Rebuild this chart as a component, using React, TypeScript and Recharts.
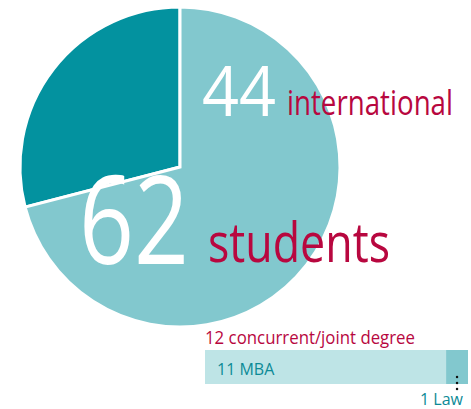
import React from 'react';
import { PieChart, Pie, Cell, BarChart, Bar, XAxis, YAxis } from 'recharts';

// student body split
const studentGroups = ['domestic', 'international'];
const studentCounts = [18, 44];
const totalStudents = 62;

// concurrent / joint degree breakdown
const degreeNames = ['MBA', 'Law'];
const degreeCounts = [11, 1];
const degreeTotal = 12;

const DARK_TEAL = '#03929f';
const LIGHT_TEAL = '#82c8ce';
const PALE_TEAL = '#bee4e6';
const CRIMSON = '#b8073f';
const TEXT_TEAL = '#0c8a96';
const FONT = '"Open Sans", sans-serif';

const pieData = studentGroups.map((g, i) => ({ name: g, value: studentCounts[i] }));
const barData = [{ name: 'degrees', ...Object.fromEntries(degreeNames.map((n, i) => [n, degreeCounts[i]])) }];

const LawLabel = (props: any) => {
  const { x, y, width, height } = props;
  const cx = x + width / 2;
  return (
    <g>
      <line x1={cx} y1={y + height - 7} x2={cx} y2={y + height + 11} stroke="#111" strokeWidth={2.5}
        strokeLinecap="round" strokeDasharray="0 6" />
      <text x={x + width - 5} y={y + height + 21} textAnchor="end" fill={TEXT_TEAL}
        fontFamily={FONT} fontSize={16}>{`${degreeCounts[1]} ${degreeNames[1]}`}</text>
    </g>
  );
};

const MbaLabel = (props: any) => {
  const { x, y } = props;
  return (
    <text x={x + 12} y={y + 25} fill={TEXT_TEAL} fontFamily={FONT} fontSize={16}>
      {`${degreeCounts[0]} ${degreeNames[0]}`}
    </text>
  );
};

export default function App() {
  return (
    <div style={{ position: 'absolute', left: 0, top: 0, width: 471, height: 409, background: '#fff' }}>
      <div style={{ position: 'absolute', left: 0, top: 0 }}>
        <PieChart width={471} height={409} margin={{ top: 0, right: 0, bottom: 0, left: 0 }}>
          <Pie data={pieData} dataKey="value" cx={180} cy={167} outerRadius={160} startAngle={90} endAngle={450}
            stroke="#fff" strokeWidth={3} isAnimationActive={false}>
            <Cell fill={DARK_TEAL} />
            <Cell fill={LIGHT_TEAL} />
          </Pie>
        </PieChart>
      </div>
      <svg width={471} height={409} style={{ position: 'absolute', left: 0, top: 0, pointerEvents: 'none' }}>
        <text x={202} y={116} fill="#fff" fontFamily={FONT} fontSize={70}
          textLength={74} lengthAdjust="spacingAndGlyphs">{studentCounts[1]}</text>
        <text x={287} y={115} fill={CRIMSON} fontFamily={FONT} fontSize={35}
          textLength={166} lengthAdjust="spacingAndGlyphs">international</text>
        <text x={79} y={264} fill="#fff" fontFamily={FONT} fontSize={122}
          textLength={110} lengthAdjust="spacingAndGlyphs">{totalStudents}</text>
        <text x={208} y={262} fill={CRIMSON} fontFamily={FONT} fontSize={55}
          textLength={182} lengthAdjust="spacingAndGlyphs">students</text>
        <text x={205} y={344} fill={CRIMSON} fontFamily={FONT} fontSize={19}
          textLength={210} lengthAdjust="spacingAndGlyphs">{`${degreeTotal} concurrent/joint degree`}</text>
      </svg>
      <div style={{ position: 'absolute', left: 205, top: 350 }}>
        <BarChart width={263} height={59} data={barData} layout="vertical" barCategoryGap={0}
          margin={{ top: 0, right: 0, bottom: 25, left: 0 }}>
          <XAxis type="number" hide domain={[0, degreeTotal]} />
          <YAxis type="category" dataKey="name" hide />
          <Bar dataKey={degreeNames[0]} stackId="d" fill={PALE_TEAL} isAnimationActive={false} label={<MbaLabel />} />
          <Bar dataKey={degreeNames[1]} stackId="d" fill={LIGHT_TEAL} isAnimationActive={false} label={<LawLabel />} />
        </BarChart>
      </div>
    </div>
  );
}
